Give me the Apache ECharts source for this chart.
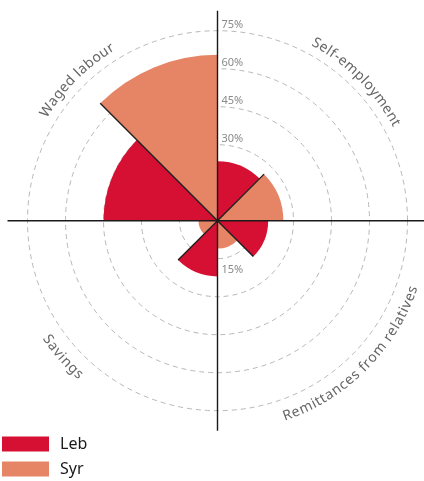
<!DOCTYPE html>
<html>
<head>
<meta charset="utf-8">
<script src="https://cdn.jsdelivr.net/npm/echarts@6/dist/echarts.min.js"></script>
<style>
  html, body { margin: 0; padding: 0; background: #fff; }
  #chart { width: 424px; height: 481px; }
</style>
</head>
<body>
<div id="chart"></div>
<script>
// Income sources, share of households (%)
const categories = ['Self-employment', 'Remittances from relatives', 'Savings', 'Waged labour'];
const lebValues = [23.5, 20, 22, 45];
const syrValues = [26, 11, 7.5, 65.5];
const seriesNames = ['Leb', 'Syr'];
const seriesColors = ['#D51033', '#E68466'];
const radiusMax = 75;
const radiusStep = 15;

const CX = 217.5, CY = 220.7;
const R_RINGS = 190;     // radius of the 75% ring
const R_CROSS = 210;     // length of the crosshair arms
const FONT = '"Noto Sans", "DejaVu Sans", sans-serif';
const LABEL_NUDGE = [0, 0, -3.6, 0];   // small angular shifts (deg) of the arc labels

const chart = echarts.init(document.getElementById('chart'), null, { renderer: 'canvas' });

// Dark radial rules between the two bars of each category
const dividerSeries = categories.map((c, i) => ({
  type: 'line',
  coordinateSystem: 'polar',
  polarIndex: 2,
  silent: true,
  showSymbol: false,
  symbol: 'none',
  z: 6,
  lineStyle: { color: '#1f1f1f', width: 1.4 },
  data: [[0, i * 90 + 45], [Math.max(lebValues[i], syrValues[i]), i * 90 + 45]]
}));

// Category names set along arcs, one glyph per text element
function arcLabels() {
  const ctx = document.createElement('canvas').getContext('2d');
  const fontSize = 14;
  const font = fontSize + 'px ' + FONT;
  ctx.font = font;
  const spacing = 0.6;
  const out = [];
  categories.forEach((name, i) => {
    const mid = 90 - (i * 90 + 45) + LABEL_NUDGE[i];   // math angle, degrees
    const top = Math.sin(mid * Math.PI / 180) > 0;
    const R = top ? 203 : 207;
    const widths = Array.from(name).map(ch => ctx.measureText(ch).width + spacing);
    const total = widths.reduce((a, b) => a + b, 0) - spacing;
    const span = total / R * 180 / Math.PI;
    let a = top ? mid + span / 2 : mid - span / 2;
    Array.from(name).forEach((ch, k) => {
      const w = widths[k];
      const half = (w - spacing) / 2 / R * 180 / Math.PI;
      const step = w / R * 180 / Math.PI;
      const phi = top ? a - half : a + half;
      const rad = phi * Math.PI / 180;
      out.push({
        type: 'text',
        x: CX + R * Math.cos(rad),
        y: CY - R * Math.sin(rad),
        rotation: (top ? phi - 90 : phi + 90) * Math.PI / 180,
        silent: true,
        style: {
          text: ch,
          font: font,
          fill: '#666666',
          align: 'center',
          verticalAlign: 'middle'
        }
      });
      a = top ? a - step : a + step;
    });
  });
  return out;
}

const legendBase = {
  orient: 'vertical',
  left: 2,
  padding: 0,
  itemWidth: 47,
  itemHeight: 15,
  icon: 'rect',
  textStyle: { fontSize: 16, lineHeight: 15, color: '#1a1a1a', fontFamily: FONT, padding: [0, 0, 0, 6] }
};

const tickLabelStyle = { color: '#8a8a8a', fontSize: 11, fontFamily: FONT, hideOverlap: false };

const option = {
  backgroundColor: '#fff',
  animation: false,
  legend: [
    Object.assign({ data: [seriesNames[0]], top: 436 }, legendBase),
    Object.assign({ data: [seriesNames[1]], top: 461 }, legendBase)
  ],
  polar: [
    { center: [CX, CY], radius: R_RINGS },   // bars and dashed rings
    { center: [CX, CY], radius: R_CROSS },   // crosshair
    { center: [CX, CY], radius: R_RINGS },   // dividers and upper tick labels
    { center: [CX, CY], radius: R_RINGS }    // lower tick label
  ],
  angleAxis: [
    {
      polarIndex: 0, type: 'category', data: categories, startAngle: 90, clockwise: true,
      axisLine: { show: false }, axisTick: { show: false }, axisLabel: { show: false },
      splitLine: { show: false }
    },
    {
      polarIndex: 1, type: 'category', data: categories, startAngle: 90, clockwise: true, z: 10,
      axisLine: { show: false }, axisTick: { show: false }, axisLabel: { show: false },
      splitLine: { show: true, lineStyle: { color: '#1a1a1a', width: 1.4 } }
    },
    {
      polarIndex: 2, type: 'value', min: 0, max: 360, startAngle: 90, clockwise: true,
      axisLine: { show: false }, axisTick: { show: false }, axisLabel: { show: false },
      splitLine: { show: false }
    },
    // the radius axis of this polar hangs downward from the centre
    {
      polarIndex: 3, type: 'value', min: 0, max: 360, startAngle: 270, clockwise: true,
      axisLine: { show: false }, axisTick: { show: false }, axisLabel: { show: false },
      splitLine: { show: false }
    }
  ],
  radiusAxis: [
    {
      polarIndex: 0, type: 'value', min: 0, max: radiusMax, interval: radiusStep,
      axisLine: { show: false }, axisTick: { show: false }, axisLabel: { show: false },
      splitLine: { show: true, lineStyle: { color: '#b8b8b8', width: 1, type: [5, 4] } }
    },
    { polarIndex: 1, type: 'value', min: 0, max: 1, show: false },
    {
      polarIndex: 2, type: 'value', min: 0, max: radiusMax, interval: radiusStep, z: 10,
      axisLine: { show: false }, axisTick: { show: false }, splitLine: { show: false },
      axisLabel: Object.assign({
        formatter: v => (v >= 30 ? v + '%' : ''),
        margin: -4, align: 'left', verticalAlign: 'bottom'
      }, tickLabelStyle)
    },
    {
      polarIndex: 3, type: 'value', min: 0, max: radiusMax, interval: radiusStep, z: 10,
      axisLine: { show: false }, axisTick: { show: false }, splitLine: { show: false },
      axisLabel: Object.assign({
        formatter: v => (v === 15 ? v + '%' : ''),
        margin: 4, align: 'left', verticalAlign: 'top', padding: [6, 0, 0, 0]
      }, tickLabelStyle)
    }
  ],
  series: [
    {
      name: seriesNames[0], type: 'bar', coordinateSystem: 'polar', polarIndex: 0,
      data: lebValues, barGap: '0%', barCategoryGap: '0%',
      itemStyle: { color: seriesColors[0] }
    },
    {
      name: seriesNames[1], type: 'bar', coordinateSystem: 'polar', polarIndex: 0,
      data: syrValues, barGap: '0%', barCategoryGap: '0%',
      itemStyle: { color: seriesColors[1] }
    }
  ].concat(dividerSeries),
  graphic: arcLabels()
};

chart.setOption(option);
</script>
</body>
</html>
